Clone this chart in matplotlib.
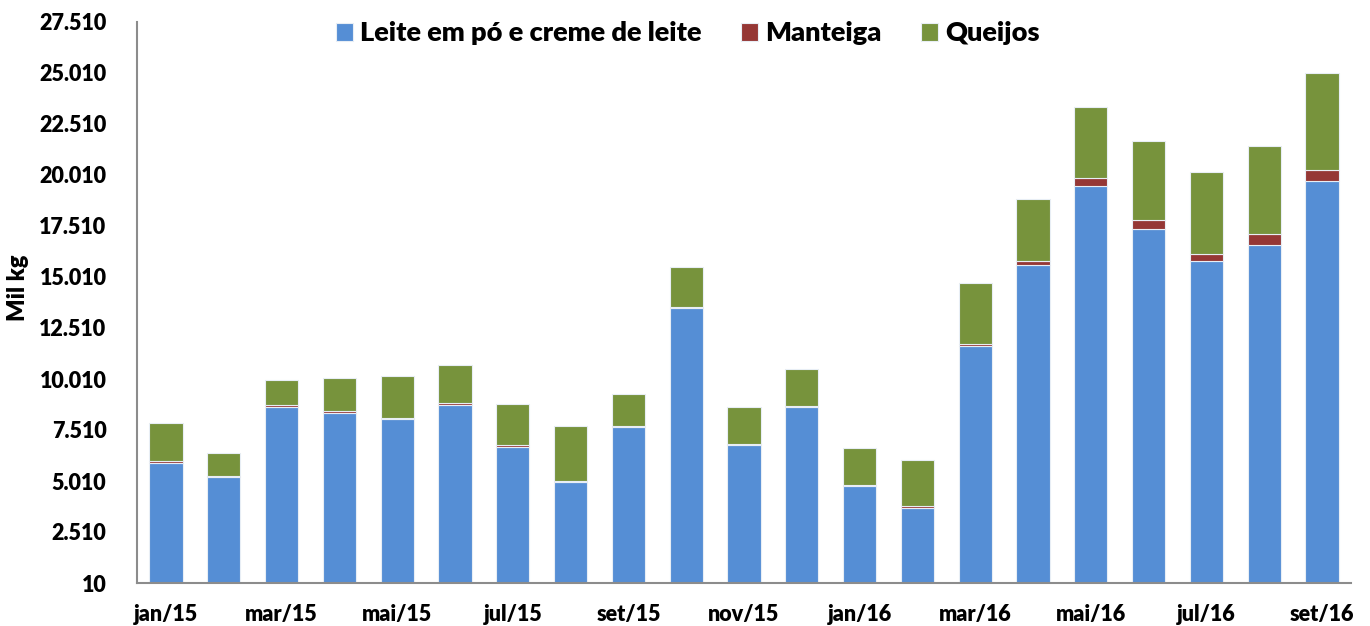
import matplotlib
matplotlib.use("Agg")
import matplotlib.pyplot as plt
from matplotlib.ticker import FuncFormatter
import numpy as np

plt.rcParams['font.family'] = ['Lato', 'DejaVu Sans']
plt.rcParams['font.weight'] = 'bold'

months = ["jan/15", "fev/15", "mar/15", "abr/15", "mai/15", "jun/15", "jul/15",
          "ago/15", "set/15", "out/15", "nov/15", "dez/15", "jan/16", "fev/16",
          "mar/16", "abr/16", "mai/16", "jun/16", "jul/16", "ago/16", "set/16"]
leite = [5892, 5221, 8652, 8358, 8049, 8736, 6691, 4976, 7642, 13476, 6760,
         8623, 4765, 3687, 11643, 15598, 19471, 17363, 15794, 16579, 19716]
manteiga = [74, 44, 98, 98, 49, 98, 98, 49, 49, 64, 64, 64, 34, 98, 83, 211,
            377, 456, 329, 524, 539]
queijos = [1872, 1132, 1211, 1618, 2044, 1877, 1981, 2681, 1569, 1946, 1828,
           1828, 1814, 2240, 2975, 3040, 3510, 3873, 4020, 4314, 4770]
series_names = ["Leite em pó e creme de leite", "Manteiga", "Queijos"]
colors = ["#558ED5", "#953735", "#77933C"]
yticks = [10, 2510, 5010, 7510, 10010, 12510, 15010, 17510, 20010, 22510, 25010, 27510]

fig = plt.figure(figsize=(13.7, 6.26), dpi=100)
ax = fig.add_axes([137/1370, 43/626, 1214/1370, 561/626])

x = np.arange(len(months))
bottom = np.zeros(len(months))
for vals, name, c in zip([leite, manteiga, queijos], series_names, colors):
    ax.bar(x, vals, 0.575, bottom=bottom, color=c, edgecolor="#e8eef5",
           linewidth=0.8, label=name)
    bottom += np.array(vals)

ax.set_xlim(-0.5, len(months) - 0.5)
ax.set_ylim(10, 27510)
ax.set_yticks(yticks)
ax.yaxis.set_major_formatter(FuncFormatter(lambda v, p: f"{int(round(v)):,}".replace(",", ".")))
ax.set_xticks(x[::2])
ax.set_xticklabels(months[::2])
ax.tick_params(axis='both', length=0, labelsize=15.5)
ax.tick_params(axis='y', pad=22)
ax.tick_params(axis='x', pad=15)
for lab in ax.get_xticklabels() + ax.get_yticklabels():
    lab.set_fontweight('heavy')

for s in ['top', 'right']:
    ax.spines[s].set_visible(False)
for s in ['left', 'bottom']:
    ax.spines[s].set_color('#8c8c8c')
    ax.spines[s].set_linewidth(1.5)

fig.text(18/1370, 1 - 288/626, "Mil kg", rotation=90, ha='center', va='center',
         fontsize=17, fontweight='heavy')

fig.legend(loc='upper center', bbox_to_anchor=(0.502, 1.005), ncol=3, frameon=False,
           prop={'size': 19.5, 'weight': 'heavy'}, handlelength=0.65, handleheight=0.65,
           columnspacing=1.45, handletextpad=0.25)

fig.savefig("out.png", dpi=100)
